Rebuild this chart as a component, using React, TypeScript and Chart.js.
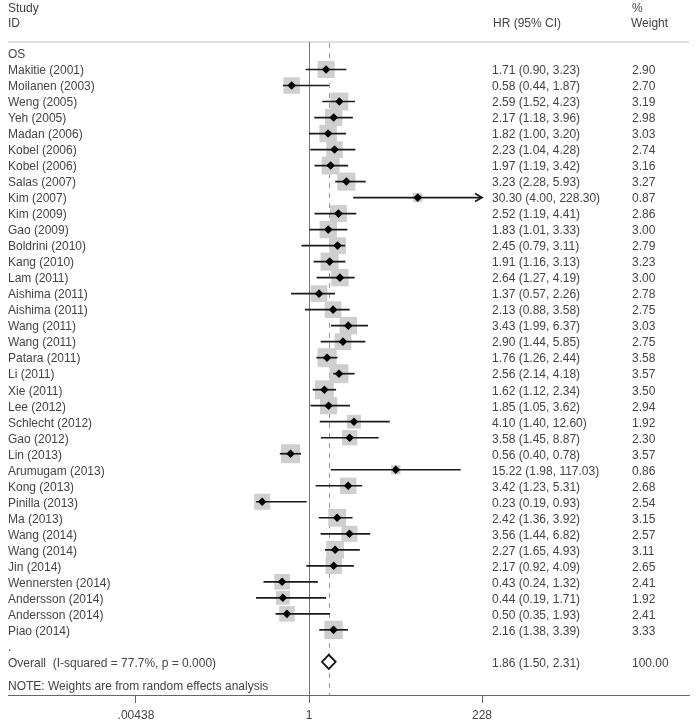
import React, { useEffect, useRef } from "react";
import { Chart, registerables } from "chart.js";

Chart.register(...registerables);

const studies = [
  "Makitie (2001)", "Moilanen (2003)", "Weng (2005)", "Yeh (2005)", "Madan (2006)",
  "Kobel (2006)", "Kobel (2006)", "Salas (2007)", "Kim (2007)", "Kim (2009)",
  "Gao (2009)", "Boldrini (2010)", "Kang (2010)", "Lam (2011)", "Aishima (2011)",
  "Aishima (2011)", "Wang (2011)", "Wang (2011)", "Patara (2011)", "Li (2011)",
  "Xie (2011)", "Lee (2012)", "Schlecht (2012)", "Gao (2012)", "Lin (2013)",
  "Arumugam (2013)", "Kong (2013)", "Pinilla (2013)", "Ma (2013)", "Wang (2014)",
  "Wang (2014)", "Jin (2014)", "Wennersten (2014)", "Andersson (2014)", "Andersson (2014)",
  "Piao (2014)",
];
const hr = [
  1.71, 0.58, 2.59, 2.17, 1.82, 2.23, 1.97, 3.23, 30.3, 2.52,
  1.83, 2.45, 1.91, 2.64, 1.37, 2.13, 3.43, 2.9, 1.76, 2.56,
  1.62, 1.85, 4.1, 3.58, 0.56, 15.22, 3.42, 0.23, 2.42, 3.56,
  2.27, 2.17, 0.43, 0.44, 0.5, 2.16,
];
const ciLow = [
  0.9, 0.44, 1.52, 1.18, 1.0, 1.04, 1.19, 2.28, 4.0, 1.19,
  1.01, 0.79, 1.16, 1.27, 0.57, 0.88, 1.99, 1.44, 1.26, 2.14,
  1.12, 1.05, 1.4, 1.45, 0.4, 1.98, 1.23, 0.19, 1.36, 1.44,
  1.65, 0.92, 0.24, 0.19, 0.35, 1.38,
];
const ciHigh = [
  3.23, 1.87, 4.23, 3.96, 3.2, 4.28, 3.42, 5.93, 228.3, 4.41,
  3.33, 3.11, 3.13, 4.19, 2.26, 3.58, 6.37, 5.85, 2.44, 4.18,
  2.34, 3.62, 12.6, 8.87, 0.78, 117.03, 5.31, 0.93, 3.92, 6.82,
  4.93, 4.09, 1.32, 1.71, 1.93, 3.39,
];
const weights = [
  2.9, 2.7, 3.19, 2.98, 3.03, 2.74, 3.16, 3.27, 0.87, 2.86,
  3.0, 2.79, 3.23, 3.0, 2.78, 2.75, 3.03, 2.75, 3.58, 3.57,
  3.5, 2.94, 1.92, 2.3, 3.57, 0.86, 2.68, 2.54, 3.15, 2.57,
  3.11, 2.65, 2.41, 1.92, 2.41, 3.33,
];
const overallLabel = "Overall  (I-squared = 77.7%, p = 0.000)";
const overallHR = 1.86;
const overallLow = 1.5;
const overallHigh = 2.31;
const overallWeight = 100;
const groupLabel = "OS";
const noteLabel = "NOTE: Weights are from random effects analysis";
const xTicks = [0.00438, 1, 228];
const xTickLabels = [".00438", "1", "228"];

const FONT = "12px 'Liberation Sans', Arial, sans-serif";
const TEXT = "#444";
const COL_HR = 492;
const COL_W = 632;
const TEXT_DY = 1.5;

const fmt = (v: number) => v.toFixed(2);

const forestPlugin = {
  id: "forest",
  beforeDatasetsDraw(chart: any) {
    const { ctx, chartArea, scales } = chart;
    const x = scales.x;
    ctx.save();
    ctx.strokeStyle = "#d2d2d2";
    ctx.lineWidth = 1.5;
    ctx.beginPath();
    ctx.moveTo(chartArea.left, chartArea.top);
    ctx.lineTo(chartArea.right, chartArea.top);
    ctx.stroke();

    const x1 = Math.round(x.getPixelForValue(1)) + 0.5;
    ctx.strokeStyle = "#777";
    ctx.lineWidth = 1;
    ctx.beginPath();
    ctx.moveTo(x1, chartArea.top);
    ctx.lineTo(x1, chartArea.bottom);
    ctx.stroke();

    const xo = Math.round(x.getPixelForValue(overallHR)) + 0.5;
    ctx.setLineDash([5, 5]);
    ctx.strokeStyle = "#999";
    ctx.beginPath();
    ctx.moveTo(xo, chartArea.top + 1);
    ctx.lineTo(xo, chartArea.bottom);
    ctx.stroke();
    ctx.restore();
  },
  afterDatasetDraw(chart: any, args: any) {
    if (args.index !== 0) return;
    const { ctx, scales } = chart;
    const x = scales.x;
    const y = scales.y;
    const maxV = xTicks[xTicks.length - 1];
    const minV = xTicks[0];
    ctx.save();
    ctx.strokeStyle = "#1a1a1a";
    ctx.lineWidth = 1.7;
    studies.forEach((_, i) => {
      const py = y.getPixelForValue(i + 1);
      const lo = Math.max(ciLow[i], minV);
      const hi = Math.min(ciHigh[i], maxV);
      const xl = x.getPixelForValue(lo);
      const xh = x.getPixelForValue(hi);
      ctx.beginPath();
      ctx.moveTo(xl, py);
      ctx.lineTo(xh, py);
      ctx.stroke();
      if (ciHigh[i] > maxV) {
        ctx.beginPath();
        ctx.moveTo(xh - 7, py - 4);
        ctx.lineTo(xh, py);
        ctx.lineTo(xh - 7, py + 4);
        ctx.stroke();
      }
    });
    ctx.restore();
  },
  afterDatasetsDraw(chart: any) {
    const { ctx, scales, chartArea } = chart;
    const x = scales.x;
    const y = scales.y;
    ctx.save();
    const oy = y.getPixelForValue(studies.length + 2);
    const half = 7;
    ctx.beginPath();
    ctx.moveTo(x.getPixelForValue(overallLow), oy);
    ctx.lineTo(x.getPixelForValue(overallHR), oy - half);
    ctx.lineTo(x.getPixelForValue(overallHigh), oy);
    ctx.lineTo(x.getPixelForValue(overallHR), oy + half);
    ctx.closePath();
    ctx.fillStyle = "#fff";
    ctx.fill();
    ctx.strokeStyle = "#111";
    ctx.lineWidth = 1.8;
    ctx.stroke();

    ctx.font = FONT;
    ctx.fillStyle = TEXT;
    ctx.textBaseline = "middle";
    ctx.textAlign = "left";
    const left = chartArea.left;
    const put = (t: string, px: number, row: number) =>
      ctx.fillText(t, px, y.getPixelForValue(row) + TEXT_DY);
    put("Study", left, -2.9);
    put("ID", left, -1.97);
    put("HR (95% CI)", COL_HR + 1, -1.97);
    put("%", COL_W, -2.9);
    put("Weight", COL_W - 1, -1.97);
    put(groupLabel, left, 0);
    studies.forEach((s, i) => {
      put(s, left, i + 1);
      put(`${fmt(hr[i])} (${fmt(ciLow[i])}, ${fmt(ciHigh[i])})`, COL_HR, i + 1);
      put(fmt(weights[i]), COL_W, i + 1);
    });
    put(".", left, studies.length + 1);
    put(overallLabel, left, studies.length + 2);
    put(`${fmt(overallHR)} (${fmt(overallLow)}, ${fmt(overallHigh)})`, COL_HR, studies.length + 2);
    put(fmt(overallWeight), COL_W, studies.length + 2);
    put(noteLabel, left, studies.length + 3.44);
    ctx.restore();
  },
};

export default function App() {
  const ref = useRef<HTMLCanvasElement | null>(null);
  useEffect(() => {
    if (!ref.current) return;
    const rows = studies.map((_, i) => i + 1);
    const chart = new Chart(ref.current, {
      type: "scatter",
      data: {
        datasets: [
          {
            data: rows.map((r, i) => ({ x: hr[i], y: r })),
            pointStyle: "rect",
            pointRadius: (c: any) => 7.1 * Math.sqrt(weights[c.dataIndex] ?? 0),
            backgroundColor: "#cfcfcf",
            borderWidth: 0,
            order: 2,
          } as any,
          {
            data: rows.map((r, i) => ({ x: hr[i], y: r })),
            pointStyle: "rectRot",
            pointRadius: 4.3,
            backgroundColor: "#000",
            borderWidth: 0,
            order: 1,
          } as any,
        ],
      },
      options: {
        animation: false,
        responsive: false,
        devicePixelRatio: 1,
        layout: { autoPadding: false, padding: { left: 8, right: 8, top: 42, bottom: 0 } },
        plugins: { legend: { display: false }, tooltip: { enabled: false } },
        scales: {
          x: {
            type: "logarithmic",
            min: 7.9e-5,
            max: 1.51e5,
            bounds: "data",
            afterBuildTicks: (s: any) => {
              s.ticks = xTicks.map((v) => ({ value: v }));
            },
            afterFit: (s: any) => {
              s.height = 27;
            },
            ticks: {
              autoSkip: false,
              maxRotation: 0,
              padding: 5,
              color: TEXT,
              font: { family: "'Liberation Sans', Arial, sans-serif", size: 12 },
              callback: (_v: any, i: number) => xTickLabels[i],
            },
            grid: { drawOnChartArea: false, drawTicks: true, tickLength: 8, color: "#666" },
            border: { display: true, color: "#666", width: 1 },
          },
          y: {
            type: "linear",
            display: false,
            reverse: true,
            min: -0.718,
            max: 40.07,
          },
        },
      } as any,
      plugins: [forestPlugin],
    });
    return () => chart.destroy();
  }, []);
  return (
    <div style={{ position: "fixed", left: 0, top: 0, width: 697, height: 722, background: "#fff" }}>
      <canvas ref={ref} width={697} height={722} />
    </div>
  );
}
